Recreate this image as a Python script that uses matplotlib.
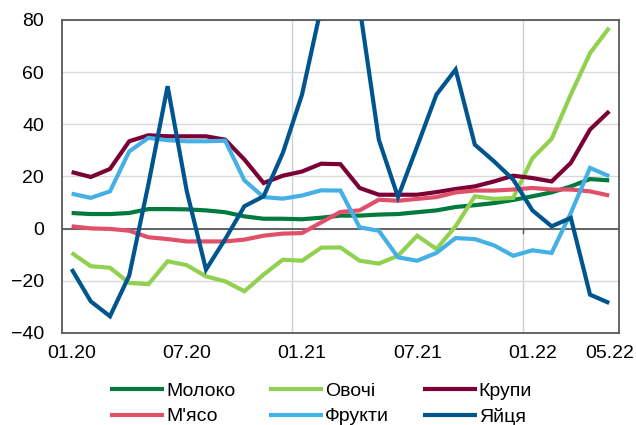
import matplotlib
matplotlib.use("Agg")
import matplotlib.pyplot as plt
import numpy as np

plt.rcParams['font.family'] = ['Liberation Sans', 'DejaVu Sans']

months = ["01.20","02.20","03.20","04.20","05.20","06.20","07.20","08.20","09.20","10.20","11.20","12.20",
          "01.21","02.21","03.21","04.21","05.21","06.21","07.21","08.21","09.21","10.21","11.21","12.21",
          "01.22","02.22","03.22","04.22","05.22"]
tick_labels = ["01.20", "07.20", "01.21", "07.21", "01.22", "05.22"]
tick_idx = [0, 6, 12, 18, 24, 28]

moloko = [6.0, 5.6, 5.6, 6.0, 7.5, 7.5, 7.4, 7.0, 6.3, 4.7, 3.8, 3.8, 3.6, 4.2, 5.0, 5.0, 5.4, 5.6, 6.3, 7.0,
          8.3, 9.0, 9.8, 11.0, 12.4, 13.9, 16.2, 19.0, 18.5]
ovochi = [-9.3, -14.4, -15.0, -20.8, -21.3, -12.5, -14.0, -18.3, -20.2, -24.0, -17.6, -11.9, -12.3, -7.3, -7.2,
          -12.3, -13.4, -10.4, -2.7, -7.8, 0.9, 12.4, 11.4, 11.8, 27.0, 34.4, 51.4, 67.3, 77.0]
krupy = [21.7, 19.8, 22.9, 33.5, 35.8, 35.4, 35.4, 35.4, 34.1, 26.5, 17.5, 20.3, 21.9, 24.9, 24.7, 15.6, 13.0,
         13.0, 13.0, 14.0, 15.2, 16.2, 18.1, 20.3, 19.4, 18.1, 25.2, 38.0, 45.0]
myaso = [0.9, 0.1, -0.1, -0.8, -3.3, -4.0, -4.9, -4.9, -4.9, -4.2, -2.7, -1.9, -1.7, 2.4, 6.4, 7.0, 11.1, 10.7,
         11.4, 12.1, 13.9, 14.6, 14.6, 15.0, 15.6, 15.0, 15.0, 14.3, 12.7]
frukty = [13.4, 11.8, 14.3, 29.6, 34.8, 33.9, 33.5, 33.5, 33.7, 18.5, 12.1, 11.5, 12.7, 14.7, 14.6, 0.5, -0.8,
          -11.0, -12.3, -9.3, -3.6, -4.0, -6.4, -10.4, -8.3, -9.3, 6.0, 23.3, 20.1]
yaytsya = [-15.5, -27.9, -33.6, -18.0, 17.0, 54.6, 14.3, -15.7, -4.0, 8.6, 12.4, 29.0, 51.4, 85.0, 105.0, 85.0,
           34.1, 12.1, 31.6, 51.4, 61.0, 32.2, 25.8, 18.8, 7.0, 0.9, 4.1, -25.3, -28.5]

series = [
    ("Молоко", moloko, "#007A3D"),
    ("Овочі", ovochi, "#92D050"),
    ("Крупи", krupy, "#7B0035"),
    ("М'ясо", myaso, "#E0506A"),
    ("Фрукти", frukty, "#45B0E6"),
    ("Яйця", yaytsya, "#00558F"),
]

fig = plt.figure(figsize=(6.36, 4.25), dpi=100)
ax = fig.add_axes([0.0975, 0.2165, 0.8755, 0.7365])

x = np.arange(len(months))
lines = {}
for name, vals, col in series:
    ln, = ax.plot(x, vals, color=col, lw=3.0, solid_capstyle='butt', solid_joinstyle='miter', zorder=3)
    lines[name] = ln

ax.set_xlim(-0.5, len(months) - 0.5)
ax.set_ylim(-40, 80)
ax.set_yticks(np.arange(-40, 81, 20))
ax.set_xticks(tick_idx)
ax.set_xticklabels(tick_labels)
ax.tick_params(axis='both', length=0, labelsize=14, colors='black')
ax.tick_params(axis='y', pad=13)
ax.tick_params(axis='x', pad=9)

ax.grid(axis='y', color='#D9D9D9', lw=1.0, zorder=0)
for gx in [11.5, 23.5]:
    ax.axvline(gx, color='#C8D0D8', lw=1.0, zorder=0)
ax.axhline(0, color='#595959', lw=1.3, zorder=2)
ax.plot([23.5, 23.5], [0, -1.5], color='#595959', lw=1.0, zorder=2)
for sp in ax.spines.values():
    sp.set_color('#595959')
    sp.set_linewidth(1.3)

order = ["Молоко", "М'ясо", "Овочі", "Фрукти", "Крупи", "Яйця"]
fig.legend([lines[n] for n in order], order, loc='upper center', bbox_to_anchor=(0.505, 0.101),
           ncol=3, frameon=False, fontsize=14, handlelength=2.75, handletextpad=0.12,
           columnspacing=1.75, labelspacing=0.42, borderpad=0, borderaxespad=0)

fig.savefig("out.png", dpi=100)
